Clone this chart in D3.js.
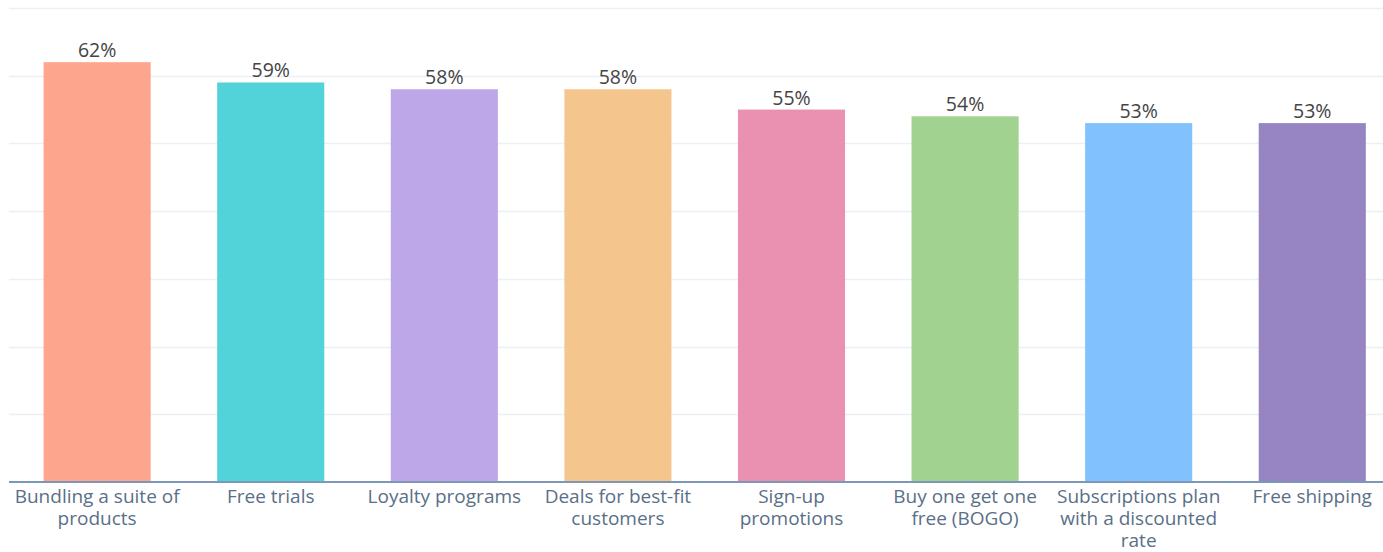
<!DOCTYPE html>
<html><head><meta charset="utf-8">
<script src="https://cdn.jsdelivr.net/npm/d3@7"></script>
<style>body{margin:0;background:#fff;}svg{display:block;font-family:"Open Sans",Lato,sans-serif;}</style>
</head><body>
<svg id="chart" width="1383" height="552"></svg>
<script>
const categories = [["Bundling a suite of","products"],["Free trials"],["Loyalty programs"],["Deals for best-fit","customers"],["Sign-up","promotions"],["Buy one get one","free (BOGO)"],["Subscriptions plan","with a discounted","rate"],["Free shipping"]];
const values = [62, 59, 58, 58, 55, 54, 53, 53];
const colors = ["#fea58e","#51d3d9","#bea7e9","#f4c68e","#ea90b1","#a2d28f","#81c1fd","#9784c2"];
const yTicks = [0,10,20,30,40,50,60,70];

const svg = d3.select("#chart");
const x0 = 9, x1 = 1400, yBase = 482, yTop = 8;
const x = d3.scaleBand().domain(d3.range(values.length)).range([10.6, 1398.8]).paddingInner(0.383).paddingOuter(0.19);
const y = d3.scaleLinear().domain([0,70]).range([yBase, yTop]);

svg.append("g").selectAll("line").data(yTicks.slice(1)).join("line")
  .attr("x1", x0).attr("x2", x1).attr("y1", d=>Math.round(y(d))+0.5).attr("y2", d=>Math.round(y(d))+0.5)
  .attr("stroke","#eaf0f6").attr("stroke-width",1.5);

svg.append("g").selectAll("rect").data(values).join("rect")
  .attr("x",(d,i)=>x(i)).attr("width",x.bandwidth())
  .attr("y",d=>y(d)).attr("height",d=>yBase-y(d))
  .attr("fill",(d,i)=>colors[i]);

svg.append("line").attr("x1",x0).attr("x2",x1).attr("y1",yBase).attr("y2",yBase)
  .attr("stroke","#7c98b6").attr("stroke-width",2);

svg.append("g").selectAll("text").data(values).join("text")
  .attr("x",(d,i)=>x(i)+x.bandwidth()/2).attr("y",d=>y(d)-5)
  .attr("text-anchor","middle").attr("font-size",19.5).attr("fill","#444")
  .text(d=>d+"%");

const lab = svg.append("g").selectAll("text").data(categories).join("text")
  .attr("x",(d,i)=>x(i)+x.bandwidth()/2).attr("y",503)
  .attr("text-anchor","middle").attr("font-size",19).attr("fill","#5a6f88");
lab.selectAll("tspan").data(d=>d).join("tspan")
  .attr("x",function(){return d3.select(this.parentNode).attr("x");})
  .attr("dy",(d,i)=>i===0?0:22).text(d=>d);
</script>
</body></html>
